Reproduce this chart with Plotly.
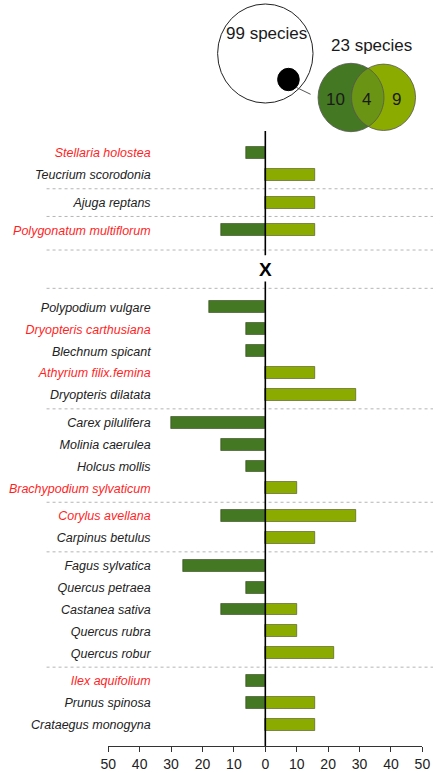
import math
import plotly.graph_objects as go

# ---------------- data ----------------
groups = [
    ["Stellaria holostea", "Teucrium scorodonia"],
    ["Ajuga reptans"],
    ["Polygonatum multiflorum"],
    ["Polypodium vulgare", "Dryopteris carthusiana", "Blechnum spicant",
     "Athyrium filix.femina", "Dryopteris dilatata"],
    ["Carex pilulifera", "Molinia caerulea", "Holcus mollis", "Brachypodium sylvaticum"],
    ["Corylus avellana", "Carpinus betulus"],
    ["Fagus sylvatica", "Quercus petraea", "Castanea sativa", "Quercus rubra", "Quercus robur"],
    ["Ilex aquifolium", "Prunus spinosa", "Crataegus monogyna"],
]
red_species = ["Stellaria holostea", "Polygonatum multiflorum", "Dryopteris carthusiana",
               "Athyrium filix.femina", "Brachypodium sylvaticum", "Corylus avellana",
               "Ilex aquifolium"]
left_values = {   # dark green (plotted to the left)
    "Stellaria holostea": 6, "Polygonatum multiflorum": 14, "Polypodium vulgare": 18,
    "Dryopteris carthusiana": 6, "Blechnum spicant": 6, "Carex pilulifera": 30,
    "Molinia caerulea": 14, "Holcus mollis": 6, "Corylus avellana": 14,
    "Fagus sylvatica": 26, "Quercus petraea": 6, "Castanea sativa": 14,
    "Ilex aquifolium": 6, "Prunus spinosa": 6,
}
right_values = {  # light green (plotted to the right)
    "Teucrium scorodonia": 16, "Ajuga reptans": 16, "Polygonatum multiflorum": 16,
    "Athyrium filix.femina": 16, "Dryopteris dilatata": 29, "Brachypodium sylvaticum": 10,
    "Corylus avellana": 29, "Carpinus betulus": 16, "Castanea sativa": 10,
    "Quercus rubra": 10, "Quercus robur": 22, "Prunus spinosa": 16,
    "Crataegus monogyna": 16,
}
x_tickvals = [-50, -40, -30, -20, -10, 0, 10, 20, 30, 40, 50]
x_ticktext = ["50", "40", "30", "20", "10", "0", "10", "20", "30", "40", "50"]
venn_total_label = "99 species"
venn_sub_label = "23 species"
venn_counts = ["10", "4", "9"]

# ---------------- layout constants ----------------
W, H = 441, 773
DARK = "#457822"
LIGHT = "#8cab00"
LENS = "#6a9414"
FONT = "Liberation Sans, Arial, sans-serif"
STEP_PX = 21.9        # px per row unit
ROW0_PX = 153         # pixel y of first row
AXIS_PX = 746         # pixel y of x-axis line
GAP = 1.265           # row units between groups
BIG_GAP = 3.52        # row units for the break ("X")
X_LEFT, X_RIGHT = 104, 430

# row positions (row units)
names, pos, seps = [], [], []
u = 0.0
break_info = None
for gi, g in enumerate(groups):
    for j, n in enumerate(g):
        names.append(n)
        pos.append(u)
        if j < len(g) - 1:
            u += 1
    if gi < len(groups) - 1:
        if gi == 2:
            last = u
            u += BIG_GAP
            break_info = (last, u)
            seps.append(last + 0.9)
            seps.append(u - 0.87)
        else:
            seps.append(u + GAP / 2)
            u += GAP

ypos = dict(zip(names, pos))
r_bottom = (AXIS_PX - ROW0_PX) / STEP_PX
r_top = (0 - ROW0_PX) / STEP_PX

def ticklabel(n):
    col = "#ff1f1f" if n in red_species else "#222222"
    return f'<i><span style="color:{col}">{n}</span></i>'

fig = go.Figure()
lk = [n for n in names if n in left_values]
fig.add_trace(go.Bar(
    y=[ypos[n] for n in lk], x=[-left_values[n] for n in lk], orientation="h",
    width=0.54, marker=dict(color=DARK, line=dict(color="rgba(40,60,20,0.55)", width=1)),
    showlegend=False, hoverinfo="skip"))
rk = [n for n in names if n in right_values]
fig.add_trace(go.Bar(
    y=[ypos[n] for n in rk], x=[right_values[n] for n in rk], orientation="h",
    width=0.54, marker=dict(color=LIGHT, line=dict(color="rgba(60,70,20,0.55)", width=1)),
    showlegend=False, hoverinfo="skip"))

shapes = []
# dotted separators
for s in seps:
    shapes.append(dict(type="line", xref="paper", yref="y", x0=40 / W, x1=1.0, y0=s, y1=s,
                       line=dict(color="#b5b5b5", width=1, dash="dot"), layer="below"))
# zero line with a break around "X"
b_mid = (break_info[0] + break_info[1]) / 2
shapes.append(dict(type="line", xref="x", yref="y", x0=0, x1=0,
                   y0=(131 - ROW0_PX) / STEP_PX, y1=b_mid - 0.62,
                   line=dict(color="black", width=1.6)))
shapes.append(dict(type="line", xref="x", yref="y", x0=0, x1=0,
                   y0=b_mid + 0.58, y1=r_bottom,
                   line=dict(color="black", width=1.6)))

# ---------- Venn diagram (pixel -> paper helpers) ----------
def px(x):
    return x / W

def py(y):
    return 1 - y / H

def circle(cx, cy, r, fill, lc, lw):
    return dict(type="circle", xref="paper", yref="paper",
                x0=px(cx - r), x1=px(cx + r), y0=py(cy + r), y1=py(cy - r),
                fillcolor=fill, line=dict(color=lc, width=lw))

shapes.append(circle(267, 53.5, 49.5, "white", "#222222", 1))
shapes.append(circle(291, 79.5, 11.2, "black", "black", 1))
shapes.append(dict(type="line", xref="paper", yref="paper",
                   x0=px(299), y0=py(87.3), x1=px(314), y1=py(94.3),
                   line=dict(color="#555555", width=1)))
c1 = (355.9, 97.5, 34.2)
c2 = (389.7, 97.3, 33.2)
shapes.append(circle(*c1, DARK, "#555555", 0.8))
shapes.append(circle(*c2, LIGHT, "#555555", 0.8))

# lens (intersection) polygon
def lens_path(a, b, n=40):
    (x1, y1, r1), (x2, y2, r2) = a, b
    d = math.hypot(x2 - x1, y2 - y1)
    ang = math.atan2(y2 - y1, x2 - x1)
    a1 = math.acos((d * d + r1 * r1 - r2 * r2) / (2 * d * r1))
    a2 = math.acos((d * d + r2 * r2 - r1 * r1) / (2 * d * r2))
    pts = []
    for k in range(n + 1):
        t = ang - a1 + 2 * a1 * k / n
        pts.append((x1 + r1 * math.cos(t), y1 + r1 * math.sin(t)))
    for k in range(n + 1):
        t = ang + math.pi - a2 + 2 * a2 * k / n
        pts.append((x2 + r2 * math.cos(t), y2 + r2 * math.sin(t)))
    return "M " + " L ".join(f"{px(x):.5f},{py(y):.5f}" for x, y in pts) + " Z"

shapes.append(dict(type="path", xref="paper", yref="paper", path=lens_path(c1, c2),
                   fillcolor=LENS, line=dict(color="#555555", width=0.8)))

annotations = [
    dict(text=venn_total_label, x=px(268), y=py(33.5)),
    dict(text=venn_sub_label, x=px(377.5), y=py(45)),
    dict(text=venn_counts[0], x=px(340), y=py(99)),
    dict(text=venn_counts[1], x=px(372), y=py(99)),
    dict(text=venn_counts[2], x=px(403), y=py(99)),
]
for a in annotations:
    a.update(xref="paper", yref="paper", showarrow=False, xanchor="center", yanchor="middle",
             font=dict(family=FONT, size=17, color="#1a1a1a"))
annotations.append(dict(text="<b>X</b>", xref="x", yref="y", x=0, y=b_mid + 0.05,
                        showarrow=False, xanchor="center", yanchor="middle",
                        font=dict(family=FONT, size=19, color="black")))

fig.update_layout(
    width=W, height=H, margin=dict(l=0, r=0, t=0, b=0),
    paper_bgcolor="white", plot_bgcolor="white",
    barmode="overlay", bargap=0,
    shapes=shapes, annotations=annotations,
    font=dict(family=FONT, color="#222222"),
    xaxis=dict(domain=[X_LEFT / W, X_RIGHT / W], range=[-50, 50],
               tickvals=x_tickvals, ticktext=x_ticktext, ticks="outside", ticklen=5,
               tickwidth=1, tickcolor="#333333", showline=True, linecolor="#333333",
               linewidth=1, showgrid=False, zeroline=False,
               tickfont=dict(family=FONT, size=14, color="#222222"), anchor="y"),
    yaxis=dict(domain=[(H - AXIS_PX) / H, 1], range=[r_bottom, r_top],
               tickvals=pos, ticktext=[ticklabel(n) for n in names],
               ticks="", showline=False, showgrid=False, zeroline=False,
               anchor="free", position=148 / W,
               tickfont=dict(family=FONT, size=12.5, color="#222222")),
)

fig.write_html("out.html", config={"displayModeBar": False},
               post_script="document.body.style.margin='0';")
